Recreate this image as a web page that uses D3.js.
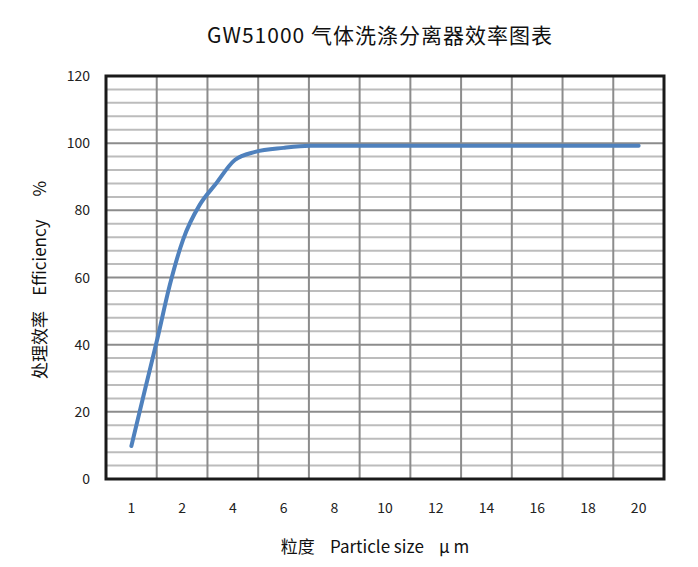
<!DOCTYPE html>
<html><head><meta charset="utf-8">
<script src="https://cdn.jsdelivr.net/npm/d3@7"></script>
<style>body{margin:0;background:#fff}svg{font-family:"Noto Sans CJK SC","DejaVu Sans",sans-serif}</style>
</head><body><div id="chart"></div>
<script>
let w = 698, h = 567;
let xCategories = [1, 2, 4, 6, 8, 10, 12, 14, 16, 18, 20];
let yTicks = [0, 20, 40, 60, 80, 100, 120];
let sizes = [1, 1.27, 1.51, 1.76, 2.04, 2.7, 3.3, 4.08, 4.88, 6, 7.04, 10, 15, 20];
let efficiency = [9.8, 26.7, 41.6, 57.9, 71.3, 81.7, 87.6, 95, 97.4, 98.6, 99.2, 99.2, 99.2, 99.2];

let plotL = 106, plotR = 664, plotT = 76, plotB = 479;
let svg = d3.select("#chart").append("svg").attr("width", w).attr("height", h);

// columns: each category sits at a column centre
let colScale = d3.scaleLinear().domain([0, xCategories.length]).range([plotL, plotR]);
function sizeToCol(s) {
  return s <= 2 ? 0.5 + (s - 1) : 1.5 + (s - 2) / 2;
}
let y = d3.scaleLinear().domain([0, 120]).range([plotB, plotT]);

// minor horizontal grid
d3.range(4, 120, 4).filter(v => v % 20 !== 0).forEach(v => {
  svg.append("line").attr("x1", plotL).attr("x2", plotR).attr("y1", y(v)).attr("y2", y(v))
    .attr("stroke", "#bcbcbc").attr("stroke-width", 2);
});
// major horizontal grid
yTicks.slice(1, -1).forEach(v => {
  svg.append("line").attr("x1", plotL).attr("x2", plotR).attr("y1", y(v)).attr("y2", y(v))
    .attr("stroke", "#8c8c8c").attr("stroke-width", 2);
});
// vertical grid
d3.range(1, xCategories.length).forEach(i => {
  svg.append("line").attr("x1", colScale(i)).attr("x2", colScale(i)).attr("y1", plotT).attr("y2", plotB)
    .attr("stroke", "#8c8c8c").attr("stroke-width", 2);
});
// frame
svg.append("rect").attr("x", plotL).attr("y", plotT).attr("width", plotR - plotL).attr("height", plotB - plotT)
  .attr("fill", "none").attr("stroke", "#1a1a1a").attr("stroke-width", 3);

// tick labels
svg.selectAll(".yl").data(yTicks).enter().append("text")
  .attr("x", 90).attr("y", d => y(d) + 5).attr("text-anchor", "end")
  .attr("font-size", 14).attr("fill", "#222").text(d => d);
svg.selectAll(".xl").data(xCategories).enter().append("text")
  .attr("x", (d, i) => colScale(i + 0.5)).attr("y", 513).attr("text-anchor", "middle")
  .attr("font-size", 14).attr("fill", "#222").text(d => d);

// curve
let line = d3.line().x((d, i) => colScale(sizeToCol(sizes[i]))).y(d => y(d)).curve(d3.curveMonotoneX);
svg.append("path").attr("d", line(efficiency)).attr("fill", "none")
  .attr("stroke", "#4f81bd").attr("stroke-width", 4).attr("stroke-linecap", "round");

// titles
svg.append("text").attr("x", 380).attr("y", 43).attr("text-anchor", "middle")
  .attr("font-size", 21).attr("fill", "#111").attr("letter-spacing", 1).text("GW51000 气体洗涤分离器效率图表");
svg.append("text").attr("x", 375).attr("y", 553).attr("text-anchor", "middle")
  .attr("font-size", 17).attr("fill", "#111").attr("xml:space", "preserve").text("粒度    Particle size    μ m");
svg.append("text").attr("transform", "translate(46,280) rotate(-90)").attr("text-anchor", "middle")
  .attr("font-size", 17).attr("fill", "#111").attr("xml:space", "preserve").text("处理效率    Efficiency      %");
</script></body></html>
